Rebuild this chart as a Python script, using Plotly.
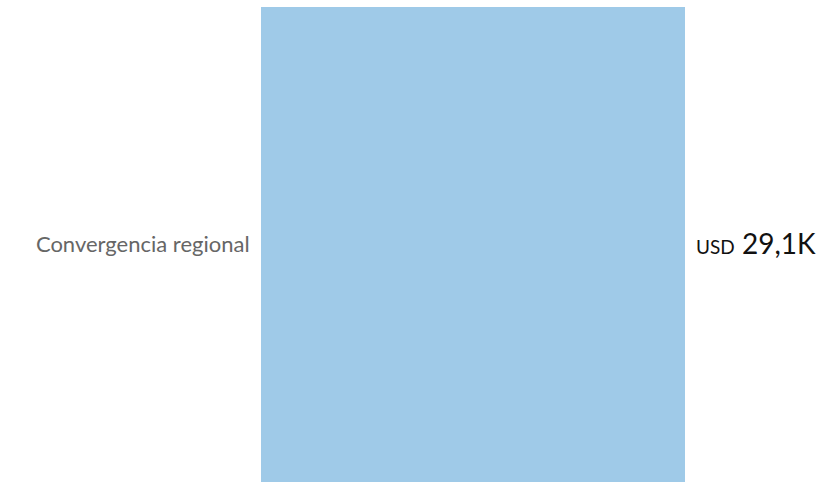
import plotly.graph_objects as go

categories = ["Convergencia regional"]
values = [29.1]
value_labels = ["29,1K"]
currency = "USD"

fig = go.Figure()
fig.add_trace(go.Bar(
    x=values,
    y=categories,
    orientation="h",
    marker=dict(color="#9fcae8", line=dict(width=0)),
    hoverinfo="skip",
))

for cat, v, lab in zip(categories, values, value_labels):
    fig.add_annotation(
        x=v, y=cat, xref="x", yref="y",
        text=f"<span style='font-size:19px'>{currency}</span> {lab}",
        showarrow=False, xanchor="left", xshift=9, yshift=2,
        font=dict(family="Lato", size=28, color="#111111"),
    )

fig.update_layout(
    width=837, height=483,
    margin=dict(l=261, r=152, t=7, b=1),
    paper_bgcolor="white", plot_bgcolor="white",
    bargap=0,
    showlegend=False,
    xaxis=dict(range=[0, 29.1], visible=False, fixedrange=True),
    yaxis=dict(
        range=[-0.5, 0.5],
        showgrid=False, zeroline=False, showline=False, fixedrange=True,
        ticks="outside", ticklen=6, tickcolor="rgba(0,0,0,0)",
        tickfont=dict(family="Lato", size=22, color="#666666"),
    ),
)

fig.write_html("out.html", config={"displayModeBar": False},
               post_script="document.body.style.margin='0px';")
